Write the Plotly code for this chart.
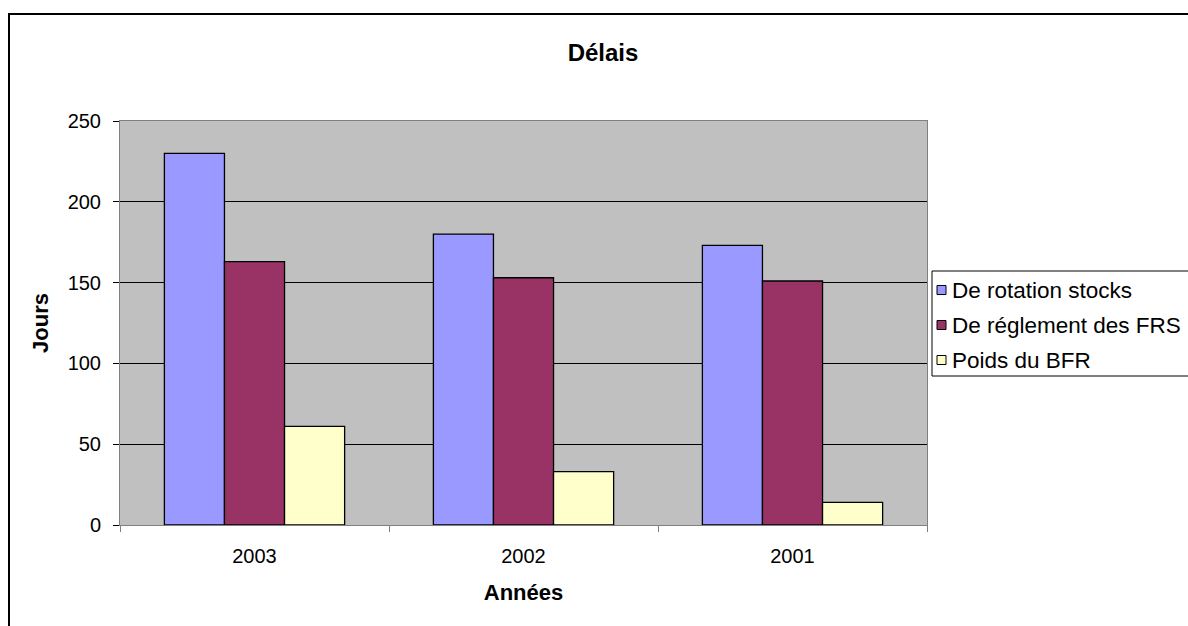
import plotly.graph_objects as go

categories = ["2003", "2002", "2001"]
rotation_stocks = [230, 180, 173]
reglement_frs = [163, 153, 151]
poids_bfr = [61, 33, 14]

series_names = ["De rotation stocks", "De réglement des FRS", "Poids du BFR"]
series_colors = ["#9999FF", "#993366", "#FFFFCC"]
y_ticks = [0, 50, 100, 150, 200, 250]

FONT = "Liberation Sans, Arial, sans-serif"

W, H = 1188, 626
L, R, T, B = 120, 261, 121, 101
pw, ph = W - L - R, H - T - B

def px2x(px):
    return (px - L) / pw

def py2y(py):
    return (H - B - py) / ph

fig = go.Figure()
for name, vals, col in zip(series_names, [rotation_stocks, reglement_frs, poids_bfr], series_colors):
    fig.add_trace(go.Bar(
        x=categories, y=vals, name=name, showlegend=False,
        marker=dict(color=col, line=dict(color="black", width=1.3)),
    ))

# legend drawn as box + swatches + labels
shapes = [dict(type="rect", xref="paper", yref="paper",
               x0=px2x(9), x1=px2x(1300), y0=py2y(700), y1=py2y(14),
               line=dict(color="black", width=2), layer="below"),
          dict(type="rect", xref="paper", yref="paper",
               x0=px2x(932), x1=px2x(1200), y0=py2y(376), y1=py2y(271),
               line=dict(color="black", width=1), fillcolor="white")]
annotations = []
for i, (name, col) in enumerate(zip(series_names, series_colors)):
    cy = 290 + 35 * i
    shapes.append(dict(type="rect", xref="paper", yref="paper",
                       x0=px2x(937), x1=px2x(946), y0=py2y(cy + 4.5), y1=py2y(cy - 4.5),
                       line=dict(color="black", width=1), fillcolor=col))
    annotations.append(dict(text=name, xref="paper", yref="paper", x=px2x(950), y=py2y(cy),
                            xanchor="left", yanchor="middle", showarrow=False,
                            font=dict(size=22.5, family=FONT, color="black")))

fig.update_layout(
    width=W, height=H,
    margin=dict(l=L, r=R, t=T, b=B, autoexpand=False),
    paper_bgcolor="white",
    plot_bgcolor="#C0C0C0",
    barmode="group", bargap=0.33, bargroupgap=0,
    font=dict(family=FONT, size=20, color="black"),
    title=dict(text="<b>Délais</b>", x=px2x(603), xref="paper", xanchor="center",
               y=1 - 53 / H, yanchor="middle", font=dict(size=24, family=FONT)),
    xaxis=dict(
        title=dict(text="<b>Années</b>", font=dict(size=22), standoff=18),
        tickson="boundaries", ticks="outside", ticklen=6, tickcolor="#808080",
        showline=True, linecolor="#808080", linewidth=1, mirror=True,
        showgrid=False, tickfont=dict(size=20), ticklabelstandoff=13,
    ),
    yaxis=dict(
        title=dict(text="<b>Jours</b>", font=dict(size=22), standoff=12),
        range=[0, 250], tickvals=y_ticks, ticks="outside", ticklen=6, tickcolor="black",
        showline=True, linecolor="#808080", linewidth=1, mirror=True,
        showgrid=True, gridcolor="black", gridwidth=1, zeroline=False,
        tickfont=dict(size=20), ticklabelstandoff=8,
    ),
    showlegend=False,
    shapes=shapes,
    annotations=annotations,
)

fig.write_html("out.html")
